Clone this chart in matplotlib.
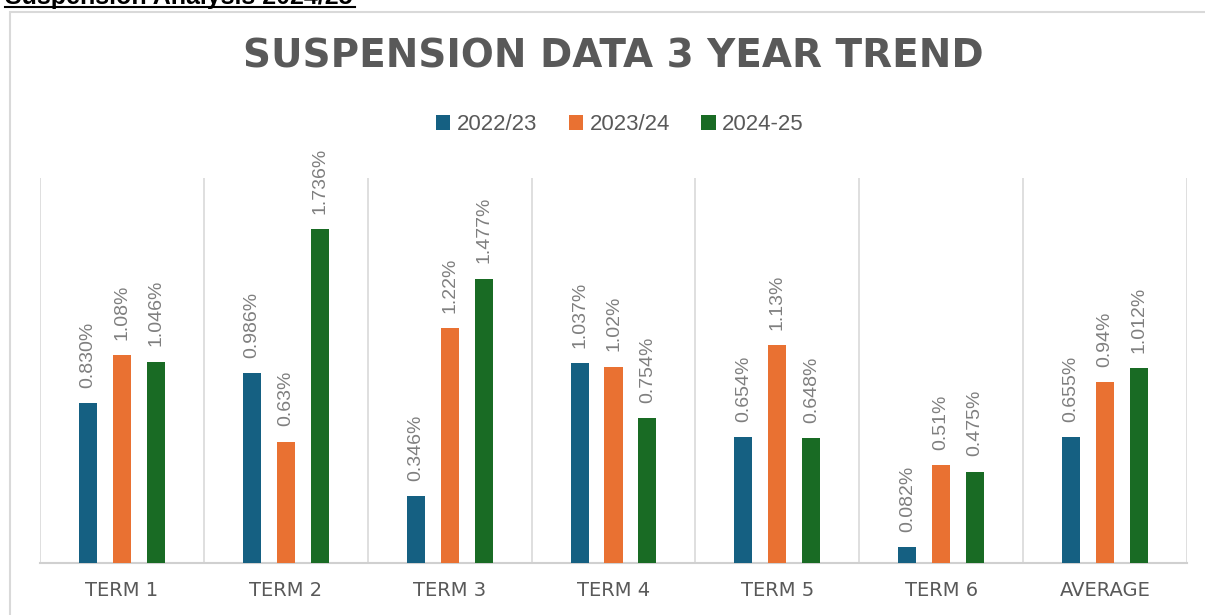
#!/usr/bin/python
"""
    Suspension data 3 year trend - grouped bar chart
"""

# import python third party modules
import matplotlib
matplotlib.use('Agg')
import matplotlib.pyplot as plt
from matplotlib.patches import Rectangle
from matplotlib.lines import Line2D
import numpy as np

# define global variables
CATEGORIES = ['TERM 1', 'TERM 2', 'TERM 3', 'TERM 4', 'TERM 5', 'TERM 6',
              'AVERAGE']
SERIES = ['2022/23', '2023/24', '2024-25']
VALS_2022 = [0.830, 0.986, 0.346, 1.037, 0.654, 0.082, 0.655]
VALS_2023 = [1.08, 0.63, 1.22, 1.02, 1.13, 0.51, 0.94]
VALS_2024 = [1.046, 1.736, 1.477, 0.754, 0.648, 0.475, 1.012]
LABELS_2022 = ['0.830%', '0.986%', '0.346%', '1.037%', '0.654%', '0.082%',
               '0.655%']
LABELS_2023 = ['1.08%', '0.63%', '1.22%', '1.02%', '1.13%', '0.51%', '0.94%']
LABELS_2024 = ['1.046%', '1.736%', '1.477%', '0.754%', '0.648%', '0.475%',
               '1.012%']
COLORS = ['#156082', '#E97132', '#196B24']

W, H = 1205, 615

fig = plt.figure(figsize=(W / 100, H / 100), dpi=100)

# outer chart frame (clipped by the page at right and bottom)
fig.patches.append(Rectangle((10 / W, -0.1), 1.2, 1.1 - 12 / H,
                             transform=fig.transFigure, fill=False,
                             edgecolor='#d9d9d9', linewidth=1.5))

# cut-off document heading
fig.text(5 / W, 1 - 4 / H, 'Suspension Analysis 2024/25', fontsize=18,
         fontweight='bold', family='Liberation Sans', color='black',
         ha='left', va='baseline')
fig.lines.append(Line2D([5 / W, 355 / W], [1 - 7 / H, 1 - 7 / H],
                        transform=fig.transFigure, color='black',
                        linewidth=1.5))

# plot area
ax = fig.add_axes([40 / W, 1 - 563 / H, (1187 - 40) / W, (563 - 178) / H])
x = np.arange(len(CATEGORIES))
offsets = [-0.207, 0.0, 0.207]
all_vals = [VALS_2022, VALS_2023, VALS_2024]
all_labels = [LABELS_2022, LABELS_2023, LABELS_2024]
for off, vals, labs, col, name in zip(offsets, all_vals, all_labels, COLORS,
                                      SERIES):
    ax.bar(x + off, vals, width=0.11, color=col, label=name, zorder=3)
    for xi, v, lab in zip(x + off, vals, labs):
        ax.annotate(lab, (xi, v), xytext=(0, 11), textcoords='offset points',
                    rotation=90, ha='center', va='bottom', fontsize=14,
                    family='Liberation Sans', color='#7f7f7f')

ax.set_xlim(-0.5, len(CATEGORIES) - 0.5)
ax.set_ylim(0, 2.0)
# category separators
for b in np.arange(len(CATEGORIES) + 1) - 0.5:
    ax.axvline(b, color='#d9d9d9', linewidth=1.2, zorder=1)
for s in ['top', 'left', 'right']:
    ax.spines[s].set_visible(False)
ax.spines['bottom'].set_color('#d0d0d0')
ax.spines['bottom'].set_linewidth(1.5)
ax.set_yticks([])
ax.set_xticks(x)
ax.set_xticklabels(CATEGORIES, fontsize=14, color='#595959',
                   family='DejaVu Sans')
ax.tick_params(axis='x', length=0, pad=13)

# title
fig.text(613 / W, 1 - 57 / H, 'SUSPENSION DATA 3 YEAR TREND', fontsize=28,
         fontweight='bold', color='#595959', ha='center', va='center',
         family='DejaVu Sans')

# legend
handles, labels = ax.get_legend_handles_labels()
fig.legend(handles, labels, loc='center', bbox_to_anchor=(620 / W, 1 - 125 / H),
           ncol=3, frameon=False, handlelength=0.65, handleheight=0.65,
           handletextpad=0.3, columnspacing=1.4,
           prop={'family': 'Liberation Sans', 'size': 16},
           labelcolor='#595959')

fig.savefig('out.png', dpi=100)
